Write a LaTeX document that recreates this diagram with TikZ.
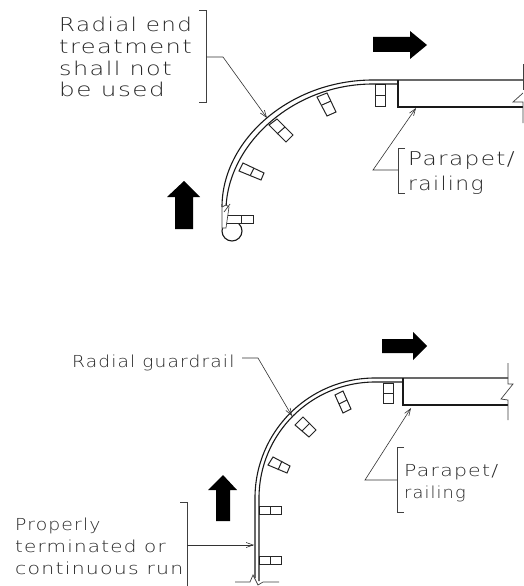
\documentclass[tikz,border=0pt]{standalone}
\usepackage{graphicx}
\usepackage{fontspec}
\setmainfont{DejaVu Sans}
\newfontfamily\cadfont[LetterSpace=6]{DejaVu Sans ExtraLight}
\usetikzlibrary{arrows.meta}
\tikzset{
  railline/.style={line width=1.1pt,black!90},
  thin line/.style={line width=0.7pt,black!75},
  leader/.style={line width=0.6pt,black!80,-{Straight Barb[length=7pt,width=5pt]}},
  bracketline/.style={line width=0.8pt,black!75},
  postbox/.style={line width=1pt,black!85,fill=white},
  bigarrow/.style={fill=black,draw=none},
  biglabel/.style={anchor=base west,inner sep=0pt,font=\cadfont\fontsize{19}{20}\selectfont,text=black!85},
  smalllabel/.style={anchor=base west,inner sep=0pt,font=\cadfont\fontsize{16.5}{18}\selectfont,text=black!85}
}
\newcommand{\postrect}[5]{%
  \draw[postbox] #1 -- #2 -- #3 -- #4 -- cycle;
  \draw[postbox] #5;}
\newcommand{\wide}[2]{\scalebox{#1}[1]{#2}}
\begin{document}
\begin{tikzpicture}[x=1pt,y=-1pt]
\useasboundingbox (0,0) rectangle (524,586);
\fill[white] (0,0) rectangle (524,586);

% ===== TOP =====
\fill[bigarrow] (373,37) -- (410,37) -- (410,31) -- (427,45) -- (410,59) -- (410,52) -- (373,52) -- cycle;
\fill[bigarrow] (175,229) -- (175,197) -- (167,197) -- (184,181) -- (200,197) -- (193,197) -- (193,229) -- cycle;

\draw[railline] (232,231) circle[radius=10];
\postrect{(375,84)}{(385,84)}{(385,106)}{(375,106)}{(375,95)--(385,95)}
\postrect{(317,97)}{(327,93)}{(336,112)}{(327,116)}{(322,105)--(331,101)}
\postrect{(269,125)}{(277,119)}{(293,135)}{(286,142)}{(277,134)--(285,127)}
\postrect{(239,171)}{(243,163)}{(264,173)}{(261,180)}{(250,176)--(254,168)}
\postrect{(226,215)}{(253,215)}{(253,223)}{(226,223)}{(241,215)--(241,223)}

\draw[railline] (222,207) .. controls (222,140) and (290,80) .. (373,80) -- (523,80);
\draw[railline] (226,208) .. controls (228,145) and (292,84) .. (373,84) -- (398,84);
\draw[railline] (398,80) -- (398,107) -- (523,107);
\draw[thin line] (523,64) -- (523,90);
\draw[thin line] (523,93) -- (513,102) -- (523,102) -- (523,123);

% radial end terminal
\draw[thin line,fill=white] (222,207) -- (226,205) -- (229,207) -- (226,228) -- (222,228) -- cycle;
\draw[thin line] (224,212) -- (230,204);

\node[biglabel] (t1) at (59,32) {\wide{1.21}{Radial end}};
\node[biglabel] (t2) at (59,53) {\wide{1.27}{treatment}};
\node[biglabel] (t3) at (59,75) {\wide{1.26}{shall not}};
\node[biglabel] (t4) at (59,96) {\wide{1.30}{be used}};
\coordinate (tb1) at (199,10);
\coordinate (tb2) at (206,10);
\coordinate (tb3) at (206,102);
\coordinate (tb4) at (199,102);
\draw[bracketline] (tb1) -- (tb2) -- (tb3) -- (tb4);
\coordinate (tl0) at (206,57);
\coordinate (tl1) at (223,57);
\coordinate (tl2) at (267,118);
\draw[leader] (tl0) -- (tl1) -- (tl2);

\node[biglabel] (p1) at (408,165) {\wide{1.22}{Parapet/}};
\node[biglabel] (p2) at (408,190) {\wide{1.15}{railing}};
\draw[bracketline] (405,148) -- (398,148) -- (398,193) -- (405,193);
\coordinate (pl0) at (398,170);
\coordinate (pl1) at (373,170);
\coordinate (pl2) at (416,108);
\draw[leader] (pl0) -- (pl1) -- (pl2);

% ===== BOTTOM =====
\fill[bigarrow] (382,339) -- (413,339) -- (413,332) -- (427,346) -- (413,360) -- (413,353) -- (382,353) -- cycle;
\fill[bigarrow] (216,521) -- (216,490) -- (208,490) -- (223,475) -- (237,490) -- (230,490) -- (230,521) -- cycle;

\postrect{(383,383)}{(393,383)}{(393,403)}{(383,403)}{(383,393)--(393,393)}
\postrect{(335,395)}{(343,391)}{(351,409)}{(343,413)}{(339,404)--(347,400)}
\postrect{(295,425)}{(303,417)}{(316,430)}{(309,437)}{(302,431)--(310,423)}
\postrect{(268,465)}{(273,457)}{(290,466)}{(287,473)}{(278,470)--(282,461)}
\postrect{(259,506)}{(281,506)}{(281,514)}{(259,514)}{(270,506)--(270,514)}
\postrect{(259,556)}{(281,556)}{(281,564)}{(259,564)}{(270,556)--(270,564)}

\draw[railline] (255,578) -- (255,498) arc[start angle=180,end angle=270,radius=120] -- (508,378);
\draw[railline] (259,581) -- (259,498) arc[start angle=180,end angle=270,radius=116] -- (403,382);
\draw[railline] (403,378) -- (403,405) -- (508,405);
\draw[thin line] (508,363) -- (508,384) -- (513,384) -- (501,399) -- (508,400) -- (508,420);
\draw[thin line] (235,582) -- (250,582) -- (253,575) -- (258,585) -- (263,582) -- (279,582);

\node[smalllabel] (g1) at (72,367) {\wide{1.13}{Radial guardrail}};
\coordinate (gl0) at (242,358);
\coordinate (gl1) at (258,358);
\coordinate (gl2) at (292,416);
\draw[leader] (gl0) -- (gl1) -- (gl2);

\node[smalllabel] (q1) at (404,476) {\wide{1.24}{Parapet/}};
\node[smalllabel] (q2) at (404,498) {\wide{1.08}{railing}};
\draw[bracketline] (404,447) -- (397,447) -- (397,512) -- (404,512);
\coordinate (ql0) at (397,480);
\coordinate (ql1) at (365,480);
\coordinate (ql2) at (411,408);
\draw[leader] (ql0) -- (ql1) -- (ql2);

\node[smalllabel] (r1) at (15,530) {\wide{1.14}{Properly}};
\node[smalllabel] (r2) at (15,552) {\wide{1.21}{terminated or}};
\node[smalllabel] (r3) at (15,574) {\wide{1.24}{continuous run}};
\draw[bracketline] (180,502) -- (187,502) -- (187,586);
\coordinate (rl0) at (187,545);
\coordinate (rl1) at (254,545);
\draw[leader] (rl0) -- (rl1);
\end{tikzpicture}
\end{document}
